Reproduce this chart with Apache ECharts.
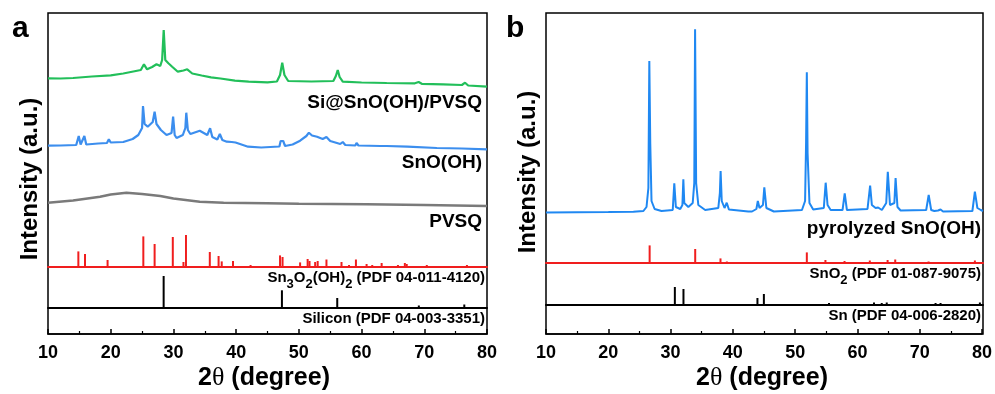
<!DOCTYPE html>
<html>
<head>
<meta charset="utf-8">
<script src="https://cdn.jsdelivr.net/npm/echarts@6/dist/echarts.min.js"></script>
<style>
  html, body { margin: 0; padding: 0; background: #fff; }
  #chart { width: 995px; height: 394px; }
</style>
</head>
<body>
<div id="chart"></div>
<script>
// ---- panel a : measured patterns [2theta, intensity (a.u.)] ----
const compositeA = [
  [10, 188.7], [12, 188.5], [14, 189], [16, 190], [17, 190.5], [20, 191.7], [22, 193.5],
  [24, 196], [24.8, 197], [25.3, 202.7], [25.8, 197.7], [26.6, 200], [27.3, 202.7], [27.9, 201],
  [28.2, 207], [28.45, 237], [28.7, 207], [29.2, 203.7], [29.8, 200.3], [30.7, 195.3], [31.6, 196.5],
  [32.2, 197.7], [33, 193.5], [34.5, 191.5], [36, 189.7], [37.5, 188.5], [39.8, 186.3], [42, 185.3],
  [45, 184.7], [46.5, 185.5], [47, 192], [47.35, 204.3], [47.7, 192], [48.3, 186], [52, 185.5],
  [55.5, 186], [55.9, 191], [56.2, 197], [56.5, 190], [57, 185.3], [60, 184.5], [64, 184],
  [68.5, 183.7], [69.1, 185], [69.6, 183.2], [73, 182.7], [76, 182], [76.5, 184.3], [77, 181.5], [80, 180.3]
];
const snoohA = [
  [10, 121.3], [12, 121.5], [14.5, 122], [14.9, 131], [15.2, 122.5], [15.5, 122.5], [15.8, 131],
  [16.1, 122.5], [18, 123.5], [19.4, 124], [19.7, 127.7], [20, 124.5], [22, 125], [23.5, 128],
  [24.4, 132], [25, 139], [25.15, 161], [25.4, 143], [25.9, 140.3], [26.7, 145], [27, 155.3],
  [27.3, 143], [28, 137], [28.9, 132], [29.7, 134], [29.95, 150.3], [30.2, 132], [30.5, 129],
  [31.5, 132], [31.9, 139], [32.05, 154.3], [32.3, 137], [32.7, 133], [34.2, 136.3], [35.4, 132],
  [35.85, 138.7], [36.2, 130], [37, 127.5], [37.4, 133], [37.8, 127], [38.5, 125.3], [39.3, 125],
  [39.6, 127], [39.9, 124.5], [41.9, 120.3], [44, 119.5], [46.9, 120.5], [47.1, 126], [47.3, 124],
  [47.5, 126], [47.8, 121], [49, 122.5], [50.2, 126.3], [51.2, 131], [51.6, 134.3], [52.1, 131.5],
  [52.9, 130.3], [53.8, 128], [54.4, 130], [55, 126], [56.6, 123], [57, 125], [57.4, 122],
  [59, 121.5], [59.2, 124], [59.5, 121.5], [63, 121], [63.3, 123], [64, 121], [67.3, 120.3],
  [72, 119], [76, 118.5], [80, 117.7]
];
const pvsqA = [
  [10, 64.3], [14, 66.5], [18.3, 70.3], [20, 72.5], [22.5, 74.3], [25, 73], [27.9, 71],
  [30, 68.5], [34.2, 65.3], [38, 64.2], [44.9, 63.7], [50, 63.2], [60.8, 62.7], [70, 62], [80, 61]
];
// reference cards [2theta, relative intensity]
const sn3o2Ref = [
  [14.84, 15.6], [15.9, 13], [19.5, 7], [25.2, 30.6], [27.0, 23], [29.9, 30], [31.6, 5], [32.0, 32],
  [35.8, 15], [37.2, 11], [37.7, 5.6], [39.5, 6], [42.3, 2], [44.0, 1], [47.0, 11.6], [47.4, 10],
  [50.2, 4.6], [51.4, 8], [51.7, 6], [52.6, 5], [53.0, 6], [54.4, 7.5], [56.8, 5], [58.0, 2],
  [59.1, 7.5], [60.8, 3], [61.7, 2], [63.2, 4], [65.8, 2], [66.9, 4], [67.2, 3], [70.4, 2], [76.8, 2]
];
const siliconRef = [[28.44, 32], [47.3, 17.7], [56.12, 10], [69.13, 2.5], [76.38, 3.5]];

// ---- panel b ----
const pyrolyzedB = [
  [10, 50.5], [15, 50.8], [20, 51], [24, 51.2], [25.6, 52], [26.1, 56], [26.4, 75], [26.55, 202],
  [26.7, 120], [26.9, 62], [27.4, 54], [28.5, 52], [30.3, 53], [30.55, 79.7], [30.8, 56], [31.5, 54],
  [31.85, 58], [32.0, 83.7], [32.15, 60], [32.8, 56], [33.5, 60], [33.75, 80], [33.88, 233.7],
  [34.05, 80], [34.4, 58], [35.5, 53], [37.6, 55], [37.85, 70], [37.97, 92], [38.15, 62], [38.6, 55],
  [38.95, 60.3], [39.3, 53.5], [42.4, 51.5], [42.7, 52.8], [43.0, 51.5], [43.7, 54], [43.93, 62],
  [44.2, 55], [44.75, 58], [44.97, 75.7], [45.3, 55], [46.5, 51.5], [51.0, 53], [51.5, 62],
  [51.66, 120], [51.78, 190.7], [51.9, 110], [52.2, 60], [52.8, 53.5], [54.5, 55], [54.8, 80.3],
  [55.1, 58], [55.35, 58], [55.6, 53], [57.5, 53], [57.85, 69.7], [58.2, 53], [61.5, 54],
  [61.92, 77.3], [62.2, 58], [62.5, 58], [62.8, 55], [63.2, 55.5], [63.8, 53], [64.1, 55],
  [64.5, 60], [64.75, 91.3], [65.1, 58], [65.4, 56], [65.8, 60], [66.0, 85], [66.3, 56], [66.8, 52.5],
  [70.9, 53], [71.3, 68], [71.7, 53], [72.2, 52], [72.5, 54], [72.8, 52.5], [73.2, 53.5], [73.6, 51.5],
  [78.3, 52], [78.7, 71.3], [79.1, 55], [79.4, 55.5], [79.65, 53], [79.8, 55], [80, 52]
];
const sno2Ref = [
  [26.6, 17.6], [33.9, 14], [37.95, 4.6], [38.97, 1.5], [42.6, 1], [51.78, 10.6], [54.76, 3],
  [57.82, 2], [61.87, 2.5], [64.72, 3], [65.94, 3.5], [71.28, 1.5], [78.7, 2.5]
];
const tinRef = [
  [30.64, 18], [32.02, 16], [43.87, 7], [44.9, 11], [55.33, 2], [62.54, 2.5], [63.78, 2],
  [64.58, 2.5], [72.4, 2], [73.2, 2], [79.5, 2.5]
];

const xMin = 10, xMax = 80, xStep = 10;

const FONT = "'Liberation Sans', Arial, sans-serif";
const GREEN = '#22bf5a', BLUE_A = '#3c8eee', BLUE_B = '#1f88f2', GRAY = '#7a7a7a', RED = '#f01e1e';

// grid layout: frame, curves, ref1, ref2 for each panel
const grids = [
  { left: 48, top: 13, width: 439, height: 321, show: true, borderColor: '#000', borderWidth: 1.5 },
  { left: 48, top: 13, width: 439, height: 254 },
  { left: 48, top: 267, width: 439, height: 41 },
  { left: 48, top: 308, width: 439, height: 26 },
  { left: 546, top: 13, width: 437, height: 321, show: true, borderColor: '#000', borderWidth: 1.5 },
  { left: 546, top: 13, width: 437, height: 250 },
  { left: 546, top: 263, width: 437, height: 42 },
  { left: 546, top: 305, width: 437, height: 29 }
];
const yMax = [1, 254, 41, 1, 1, 250, 42, 1];

function xAxisFor(i) {
  const base = { type: 'value', gridIndex: i, min: xMin, max: xMax, interval: xStep,
    splitLine: { show: false }, axisLabel: { show: false }, axisTick: { show: false } };
  if (i === 0 || i === 4) return Object.assign(base, { show: false });
  if (i === 1 || i === 5) return Object.assign(base, { axisLine: { lineStyle: { color: RED, width: 2 } } });
  if (i === 2 || i === 6) return Object.assign(base, { axisLine: { lineStyle: { color: '#000', width: 2 } } });
  return Object.assign(base, {
    axisLine: { lineStyle: { color: '#000', width: 1.5 } },
    axisTick: { show: true, inside: true, length: 5, lineStyle: { color: '#000', width: 1.5 } },
    minorTick: { show: true, splitNumber: 2, length: 3, lineStyle: { color: '#000', width: 1.2 } },
    axisLabel: { show: true, margin: 10, color: '#000', fontSize: 18, fontWeight: 'bold', fontFamily: FONT }
  });
}

function lineSeries(data, idx, color, w) {
  return { type: 'line', xAxisIndex: idx, yAxisIndex: idx, data: data, showSymbol: false,
    symbol: 'none', lineStyle: { color: color, width: w }, z: 3 };
}

function stickSeries(data, idx, color) {
  return {
    type: 'custom', xAxisIndex: idx, yAxisIndex: idx, data: data, encode: { x: 0, y: 1 }, z: 2,
    renderItem: function (params, api) {
      const b = api.coord([api.value(0), 0]);
      const t = api.coord([api.value(0), api.value(1)]);
      return { type: 'line', shape: { x1: b[0], y1: b[1], x2: t[0], y2: t[1] },
        style: { stroke: color, lineWidth: 2 } };
    }
  };
}

function label(text, x, y, size) {
  return { type: 'text', x: x, y: y, silent: true,
    style: { text: text, fill: '#000', font: 'bold ' + size + 'px ' + FONT, align: 'right', verticalAlign: 'middle' } };
}

// text with subscripts; y is the centre of the normal-size text
function subLabel(parts, x, y) {
  return { type: 'text', x: x, y: y + 1.5, silent: true,
    style: { text: parts, fill: '#000', align: 'right', verticalAlign: 'middle',
      rich: {
        n: { fontSize: 15, fontWeight: 'bold', fontFamily: FONT, lineHeight: 20, verticalAlign: 'top' },
        s: { fontSize: 13, fontWeight: 'bold', fontFamily: FONT, lineHeight: 20, verticalAlign: 'bottom' }
      } } };
}

function yTitle(x, y) {
  return { type: 'text', x: x, y: y, rotation: Math.PI / 2, silent: true,
    style: { text: 'Intensity (a.u.)', fill: '#000', font: 'bold 24px ' + FONT, align: 'center', verticalAlign: 'middle' } };
}

function xTitle(x, y) {
  return { type: 'text', x: x, y: y, silent: true,
    style: { text: '{n|2}{t|θ}{n| (degree)}', fill: '#000', align: 'center', verticalAlign: 'middle',
      rich: {
        n: { fontSize: 25, fontWeight: 'bold', fontFamily: FONT },
        t: { fontSize: 26, fontWeight: 'normal', fontFamily: "'Liberation Serif', 'DejaVu Serif', serif" }
      } } };
}

const chart = echarts.init(document.getElementById('chart'), null, { renderer: 'canvas' });
chart.setOption({
  animation: false,
  backgroundColor: '#fff',
  grid: grids,
  xAxis: grids.map((g, i) => xAxisFor(i)),
  yAxis: grids.map((g, i) => ({ type: 'value', gridIndex: i, min: 0, max: yMax[i], show: false })),
  series: [
    lineSeries(pvsqA, 1, GRAY, 2.6),
    lineSeries(snoohA, 1, BLUE_A, 2.2),
    lineSeries(compositeA, 1, GREEN, 2.2),
    stickSeries(sn3o2Ref, 1, RED),
    stickSeries(siliconRef, 2, '#000'),
    lineSeries(pyrolyzedB, 5, BLUE_B, 2),
    stickSeries(sno2Ref, 5, RED),
    stickSeries(tinRef, 6, '#000')
  ],
  graphic: [
    { type: 'text', x: 12, y: 29, silent: true, style: { text: 'a', fill: '#000', font: 'bold 30px ' + FONT, verticalAlign: 'middle' } },
    { type: 'text', x: 506, y: 29, silent: true, style: { text: 'b', fill: '#000', font: 'bold 30px ' + FONT, verticalAlign: 'middle' } },
    yTitle(30, 179),
    yTitle(528, 172),
    xTitle(264, 378),
    xTitle(762, 378),
    label('Si@SnO(OH)/PVSQ', 482, 103, 19),
    label('SnO(OH)', 482, 163, 19),
    label('PVSQ', 482, 221.5, 19),
    subLabel('{n|Sn}{s|3}{n|O}{s|2}{n|(OH)}{s|2}{n| (PDF 04-011-4120)}', 485, 279),
    label('Silicon (PDF 04-003-3351)', 485, 319, 15),
    label('pyrolyzed SnO(OH)', 981, 229, 19),
    subLabel('{n|SnO}{s|2}{n| (PDF 01-087-9075)}', 981, 275),
    label('Sn (PDF 04-006-2820)', 981, 316, 15)
  ]
});
</script>
</body>
</html>
